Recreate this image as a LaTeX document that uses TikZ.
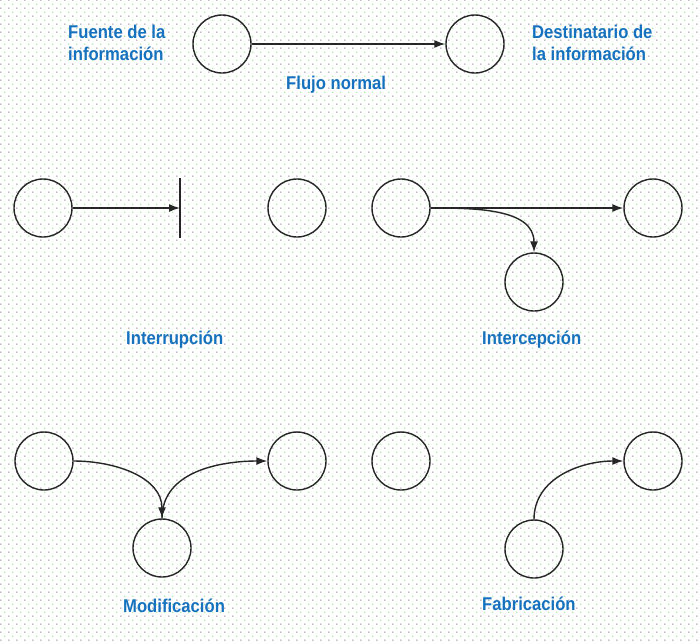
\documentclass[tikz,border=0pt]{standalone}
\usepackage{fontspec}
\setmainfont{Liberation Sans}
\newfontfamily\lblfont{Liberation Sans}[FakeStretch=0.9]
\usetikzlibrary{arrows.meta,patterns.meta}
\definecolor{lblue}{RGB}{22,114,190}
\definecolor{dotgray}{RGB}{172,172,178}
\definecolor{dotgreen}{RGB}{172,235,172}
\tikzdeclarepattern{
  name=bgdots, type=colored,
  bottom left={(0pt,0pt)}, top right={(8.3pt,8.3pt)}, tile size={(8.3pt,8.3pt)},
  code={\fill[dotgray] (2pt,2pt) circle (0.9pt); \fill[dotgreen] (6.15pt,6.15pt) circle (0.9pt);}
}
\begin{document}
\begin{tikzpicture}[x=1pt,y=-1pt,
  circ/.style={circle,draw=black!85,line width=1.4pt,minimum size=58pt,inner sep=0pt},
  flow/.style={draw=black!85,line width=1.4pt,-{Latex[length=11pt,width=8pt]}},
  lbl/.style={text=lblue,font=\lblfont\bfseries\fontsize{18.5}{22}\selectfont,inner sep=0pt,align=left}]
\useasboundingbox (0,0) rectangle (700,641);
\fill[white] (0,0) rectangle (700,641);
\fill[pattern=bgdots] (0,0) rectangle (700,641);

% Flujo normal
\node[circ] (src) at (222,44) {};
\node[circ] (dst) at (475,44) {};
\draw[flow] (src) -- (dst);
\node[lbl,anchor=base west] (t1) at (68,60) {Fuente de la\\información};
\node[lbl,anchor=base west] (t2) at (532,60) {Destinatario de\\la información};
\node[lbl,anchor=base west] (t3) at (286,89) {Flujo normal};

% Interrupción
\node[circ] (i1) at (43,208) {};
\node[circ] (i2) at (297,208) {};
\coordinate (bar) at (180,208);
\coordinate (bartop) at (180,178);
\coordinate (barbot) at (180,238);
\draw[black!85,line width=1.4pt] (bartop) -- (barbot);
\draw[flow] (i1) -- (bar);
\node[lbl,anchor=base west] (t4) at (126,344) {Interrupción};

% Intercepción
\node[circ] (ca) at (401,208) {};
\node[circ] (cb) at (653,208) {};
\node[circ] (cc) at (534,282) {};
\draw[flow] (ca) -- (cb);
\draw[flow] (ca.east) to[out=0,in=90] (cc.north);
\node[lbl,anchor=base west] (t5) at (482,344) {Intercepción};

% Modificación
\node[circ] (m1) at (44,461) {};
\node[circ] (m2) at (297,461) {};
\node[circ] (m3) at (162,548) {};
\draw[flow] (m1.east) to[out=0,in=90] (m3.north);
\draw[flow] (m3.north) to[out=90,in=180] (m2.west);
\node[lbl,anchor=base west] (t6) at (123,612) {Modificación};

% Fabricación
\node[circ] (f1) at (401,461) {};
\node[circ] (f2) at (653,461) {};
\node[circ] (f3) at (534,549) {};
\draw[flow] (f3.north) to[out=90,in=180] (f2.west);
\node[lbl,anchor=base west] (t7) at (482,610) {Fabricación};
\end{tikzpicture}
\end{document}
